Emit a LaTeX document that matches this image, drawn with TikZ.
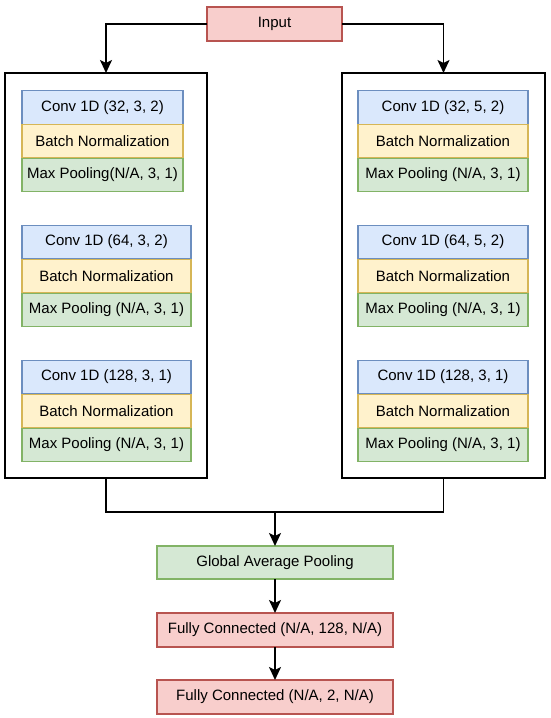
\documentclass[tikz,border=0pt]{standalone}
\usepackage{fontspec}
\setmainfont{Liberation Sans}
\usepackage{tikz}
\usetikzlibrary{arrows.meta, positioning}

\definecolor{cvfill}{HTML}{DAE8FC}
\definecolor{cvdraw}{HTML}{6C8EBF}
\definecolor{bnfill}{HTML}{FFF2CC}
\definecolor{bndraw}{HTML}{D6B656}
\definecolor{mpfill}{HTML}{D5E8D4}
\definecolor{mpdraw}{HTML}{82B366}
\definecolor{fcfill}{HTML}{F8CECC}
\definecolor{fcdraw}{HTML}{B85450}

\begin{document}
\begin{tikzpicture}[x=1pt, y=1pt, font=\fontsize{15}{18}\selectfont,
  lay/.style={inner sep=0pt, outer sep=0pt, minimum height=33.5pt, line width=1.3pt, align=center},
  cv/.style={lay, draw=cvdraw, fill=cvfill},
  bn/.style={lay, draw=bndraw, fill=bnfill},
  mp/.style={lay, draw=mpdraw, fill=mpfill},
  fc/.style={lay, draw=fcdraw, fill=fcfill, minimum width=236pt, minimum height=34pt},
  br/.style={draw=black, line width=1.8pt, inner sep=0pt, outer sep=0pt, minimum height=405pt},
  arr/.style={-{Stealth[length=13pt, width=12pt, inset=3pt]}, line width=1.8pt},
  ln/.style={line width=1.8pt}
]
\useasboundingbox (0,0) rectangle (550,-718);

% branch frames
\node[br, minimum width=202pt] (lbr) at (106,-275.5) {};
\node[br, minimum width=203pt] (rbr) at (443.5,-275.5) {};

% input
\node[fc, minimum width=135pt] (in) at (274.5,-24) {Input};

% left branch
\node[cv, minimum width=161pt] (l1c) at (102.5,-107.5) {Conv 1D (32, 3, 2)};
\node[bn, minimum width=161pt] (l1b) at (102.5,-141)   {Batch Normalization};
\node[mp, minimum width=161pt] (l1m) at (102.5,-175)   {Max Pooling(N/A, 3, 1)};
\node[cv, minimum width=169pt] (l2c) at (106.5,-242)   {Conv 1D (64, 3, 2)};
\node[bn, minimum width=169pt] (l2b) at (106.5,-276)   {Batch Normalization};
\node[mp, minimum width=169pt] (l2m) at (106.5,-310)   {Max Pooling (N/A, 3, 1)};
\node[cv, minimum width=169pt] (l3c) at (106.5,-377)   {Conv 1D (128, 3, 1)};
\node[bn, minimum width=169pt] (l3b) at (106.5,-411)   {Batch Normalization};
\node[mp, minimum width=169pt] (l3m) at (106.5,-445)   {Max Pooling (N/A, 3, 1)};

% right branch
\node[cv, minimum width=170pt] (r1c) at (443,-107.5) {Conv 1D (32, 5, 2)};
\node[bn, minimum width=170pt] (r1b) at (443,-141)   {Batch Normalization};
\node[mp, minimum width=170pt] (r1m) at (443,-175)   {Max Pooling (N/A, 3, 1)};
\node[cv, minimum width=170pt] (r2c) at (443,-242)   {Conv 1D (64, 5, 2)};
\node[bn, minimum width=170pt] (r2b) at (443,-276)   {Batch Normalization};
\node[mp, minimum width=170pt] (r2m) at (443,-310)   {Max Pooling (N/A, 3, 1)};
\node[cv, minimum width=170pt] (r3c) at (443,-377)   {Conv 1D (128, 3, 1)};
\node[bn, minimum width=170pt] (r3b) at (443,-411)   {Batch Normalization};
\node[mp, minimum width=170pt] (r3m) at (443,-445)   {Max Pooling (N/A, 3, 1)};

% head
\node[mp, minimum width=236pt, minimum height=33pt] (gap) at (275,-562.5) {Global Average Pooling};
\node[fc] (fc1) at (275,-630) {Fully Connected (N/A, 128, N/A)};
\node[fc] (fc2) at (275,-697) {Fully Connected (N/A, 2, N/A)};

\coordinate (mg) at (275,-512);

\draw[arr] (in.west) -| (lbr.north);
\draw[arr] (in.east) -| (rbr.north);
\draw[ln] (lbr.south) |- (mg);
\draw[ln] (rbr.south) |- (mg);
\foreach \a/\b in {mg/gap, gap/fc1, fc1/fc2} \draw[arr] (\a) -- (\b);
\end{tikzpicture}
\end{document}
